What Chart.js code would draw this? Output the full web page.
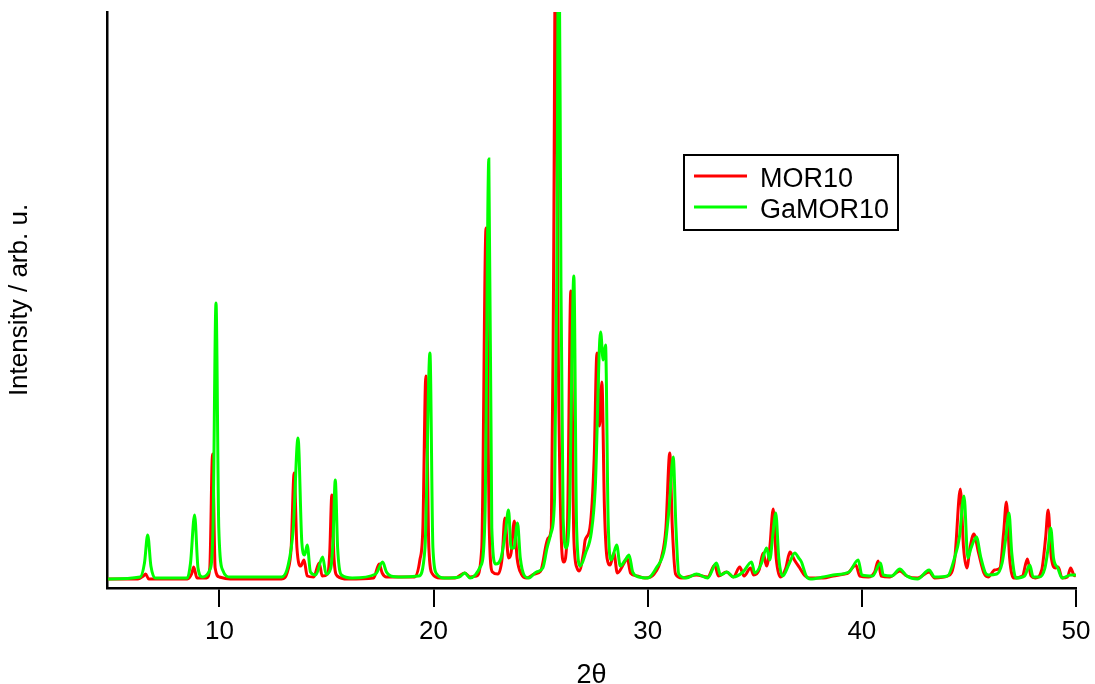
<!DOCTYPE html>
<html>
<head>
<meta charset="utf-8">
<script src="https://cdn.jsdelivr.net/npm/chart.js@4"></script>
<style>
  html, body { margin: 0; padding: 0; background: #fff; }
  #wrap { width: 1095px; height: 684px; }
</style>
</head>
<body>
<div id="wrap"><canvas id="xrdChart" width="1095" height="684"></canvas></div>
<script>
// 2theta positions and intensities (arb. u.)
var mor10Theta = [4.8, 6.2, 6.45, 6.55, 6.7, 8.5, 8.7, 8.8, 8.95, 9.4, 9.55, 9.68, 9.8, 10.0, 10.5,
  12.9, 13.2, 13.35, 13.49, 13.62, 13.8, 13.95, 14.1, 14.4, 14.66, 14.8, 15.05, 15.15, 15.25, 15.35, 15.5,
  16.0, 17.2, 17.46, 17.6, 17.8, 18.43, 19.1, 19.36, 19.5, 19.64, 19.78, 19.95, 20.3, 21.0, 21.46, 21.7,
  22.0, 22.25, 22.45, 22.6, 22.75, 23.0, 23.2, 23.33, 23.5, 23.62, 23.77, 23.9, 24.1, 24.36, 24.7, 25.0,
  25.35, 25.5, 25.6, 25.71, 25.8, 25.95, 26.08, 26.25, 26.41, 26.55, 26.7, 26.8, 27.0, 27.08, 27.3, 27.5,
  27.63, 27.75, 27.86, 27.98, 28.1, 28.25, 28.42, 28.58, 28.9, 29.04, 29.2, 29.5, 29.87, 30.3, 30.65, 30.85,
  31.03, 31.15, 31.3, 31.6, 32.28, 32.8, 33.13, 33.3, 33.68, 34.0, 34.3, 34.5, 34.8, 34.95, 35.2, 35.39,
  35.55, 35.7, 35.86, 36.0, 36.2, 36.45, 36.64, 36.85, 37.1, 37.35, 37.57, 38.2, 38.66, 39.2, 39.36, 39.72,
  39.9, 40.3, 40.6, 40.76, 40.9, 41.3, 41.77, 42.1, 42.6, 43.14, 43.4, 44.0, 44.34, 44.6, 44.75, 44.9,
  45.05, 45.23, 45.45, 45.7, 45.9, 46.2, 46.45, 46.62, 46.75, 46.9, 47.1, 47.5, 47.73, 47.9, 48.1, 48.4,
  48.58, 48.7, 48.85, 49.05, 49.17, 49.35, 49.6, 49.75, 49.9, 50.0];
var mor10Counts = [9, 9, 12, 14, 9, 9, 14, 21, 10, 10, 20, 134, 20, 11, 9,
  9, 18, 40, 115, 40, 22, 28, 12, 11, 25, 12, 14, 35, 93, 30, 12,
  9, 10, 24, 15, 11, 11, 11, 28, 60, 212, 40, 14, 10, 10, 15, 11,
  12, 40, 360, 60, 16, 14, 30, 70, 30, 35, 67, 30, 14, 10, 14, 17,
  50, 60, 300, 700, 300, 60, 26, 60, 297, 50, 20, 17, 35, 48, 60, 130,
  235, 162, 206, 80, 30, 23, 35, 15, 25, 30, 15, 12, 10, 14, 31, 60,
  135, 60, 14, 10, 13, 11, 23, 12, 16, 11, 21, 12, 20, 13, 18, 35,
  22, 40, 79, 30, 11, 20, 36, 28, 20, 12, 10, 10, 12, 14, 15, 23,
  12, 11, 16, 27, 12, 11, 17, 12, 10, 16, 10, 12, 30, 99, 40, 20,
  40, 54, 35, 15, 11, 18, 20, 55, 86, 30, 10, 12, 29, 12, 10, 18,
  50, 78, 30, 20, 21, 10, 11, 20, 13, 12];

var gamor10Theta = [4.8, 6.3, 6.5, 6.65, 6.8, 7.0, 8.5, 8.65, 8.84, 9.0, 9.2, 9.55, 9.7, 9.84, 9.97, 10.15, 10.5,
  12.9, 13.2, 13.45, 13.67, 13.85, 13.98, 14.1, 14.25, 14.5, 14.82, 14.98, 15.2, 15.3, 15.41, 15.52, 15.7,
  16.2, 17.3, 17.62, 17.8, 18.0, 18.5, 19.3, 19.6, 19.83, 19.97, 20.15, 20.5, 21.2, 21.46, 21.7,
  22.2, 22.4, 22.58, 22.72, 22.9, 23.15, 23.35, 23.5, 23.62, 23.75, 23.92, 24.05, 24.25, 24.45, 24.8, 25.1,
  25.3, 25.5, 25.65, 25.75, 25.85, 25.95, 26.05, 26.2, 26.35, 26.55, 26.68, 26.85, 27.1, 27.37, 27.55,
  27.8, 27.92, 28.03, 28.15, 28.3, 28.55, 28.72, 28.95, 29.13, 29.3, 29.6, 30.0, 30.4, 30.8, 31.0,
  31.19, 31.32, 31.45, 31.8, 32.28, 32.8, 33.21, 33.4, 33.7, 34.0, 34.45, 34.85, 35.0, 35.3, 35.55,
  35.7, 35.85, 35.98, 36.12, 36.3, 36.6, 36.87, 37.05, 37.18, 37.4, 37.6, 38.2, 38.66, 39.4, 39.83,
  40.0, 40.5, 40.87, 41.0, 41.4, 41.77, 42.1, 42.6, 43.14, 43.4, 44.0, 44.34, 44.55, 44.77, 44.95,
  45.1, 45.35, 45.55, 45.75, 45.9, 46.3, 46.55, 46.72, 46.87, 47.0, 47.2, 47.6, 47.84, 48.0, 48.3,
  48.55, 48.7, 48.82, 48.95, 49.15, 49.35, 49.75, 50.0];
var gamor10Counts = [9, 11, 25, 53, 22, 10, 10, 25, 73, 20, 11, 18, 60, 285, 60, 18, 11,
  11, 22, 60, 150, 45, 33, 43, 16, 13, 31, 14, 20, 45, 108, 40, 13,
  10, 14, 26, 16, 12, 11, 12, 40, 235, 40, 14, 10, 11, 15, 10,
  22, 70, 429, 60, 24, 30, 55, 78, 40, 40, 65, 30, 12, 10, 16, 20,
  40, 56, 90, 300, 700, 300, 70, 40, 80, 312, 60, 22, 35, 56, 100,
  256, 228, 243, 70, 28, 43, 22, 28, 33, 16, 11, 10, 20, 41, 80,
  131, 60, 14, 10, 14, 10, 25, 13, 16, 11, 16, 26, 15, 24, 40,
  28, 55, 75, 30, 12, 24, 35, 30, 26, 12, 9, 11, 13, 16, 28,
  13, 12, 25, 13, 12, 19, 12, 9, 18, 11, 12, 31, 50, 92, 30,
  40, 51, 31, 16, 13, 14, 25, 50, 75, 35, 10, 12, 23, 11, 11,
  20, 40, 60, 30, 20, 10, 13, 13];

var xTicks = [10, 20, 30, 40, 50];
var seriesNames = ["MOR10", "GaMOR10"];
var seriesColors = ["#ff0000", "#00ff00"];

var fontFamily = "'Liberation Sans', Arial, sans-serif";

function toPoints(xs, ys) {
  var pts = [];
  for (let i = 0; i < xs.length; i++) {
    pts.push({x: xs[i], y: ys[i]});
  }
  return pts;
}

// boxed legend inside the plot, like the original
var boxLegend = {
  id: "boxLegend",
  afterDraw(chart) {
    const c = chart.ctx;
    c.save();
    c.strokeStyle = "#000";
    c.lineWidth = 2;
    c.strokeRect(684, 155, 214, 75);
    c.font = "27px " + fontFamily;
    c.textBaseline = "alphabetic";
    c.fillStyle = "#000";
    const rows = [176, 207];
    for (let i = 0; i < seriesNames.length; i++) {
      c.strokeStyle = seriesColors[i];
      c.lineWidth = 3;
      c.beginPath();
      c.moveTo(694, rows[i]);
      c.lineTo(747, rows[i]);
      c.stroke();
      c.fillText(seriesNames[i], 760, rows[i] + 11);
    }
    c.restore();
  }
};

new Chart("xrdChart", {
  type: "line",
  data: {
    datasets: [{
      label: seriesNames[0],
      data: toPoints(mor10Theta, mor10Counts),
      borderColor: seriesColors[0],
      borderWidth: 3,
      pointRadius: 0,
      cubicInterpolationMode: "monotone",
      clip: 0,
      order: 2
    }, {
      label: seriesNames[1],
      data: toPoints(gamor10Theta, gamor10Counts),
      borderColor: seriesColors[1],
      borderWidth: 3,
      pointRadius: 0,
      cubicInterpolationMode: "monotone",
      clip: 0,
      order: 1
    }]
  },
  options: {
    responsive: false,
    animation: false,
    layout: {padding: {top: 12, right: 19, left: 0, bottom: 0}},
    plugins: {
      legend: {display: false},
      tooltip: {enabled: false}
    },
    scales: {
      x: {
        type: "linear",
        min: 4.75,
        max: 50,
        afterBuildTicks: function(s) { s.ticks = xTicks.map(v => ({value: v})); },
        afterFit: function(s) { s.height = 96; s.paddingRight = 0; s.paddingLeft = 0; },
        grid: {display: true, drawOnChartArea: false, drawTicks: true, tickLength: 19, color: "#000", lineWidth: 2},
        border: {display: true, color: "#000", width: 2.5},
        ticks: {color: "#000", font: {family: fontFamily, size: 26}, padding: 9, maxRotation: 0},
        title: {display: true, text: "2θ", color: "#000", font: {family: fontFamily, size: 27}, padding: {top: 0, bottom: -8}}
      },
      y: {
        min: 0,
        max: 576,
        afterFit: function(s) { s.width = 107; },
        grid: {display: false},
        border: {display: true, color: "#000", width: 2.5},
        ticks: {display: false},
        title: {display: true, text: "Intensity / arb. u.", color: "#000", font: {family: fontFamily, size: 26}, padding: {top: 4, bottom: 0}}
      }
    }
  },
  plugins: [boxLegend]
});
</script>
</body>
</html>
